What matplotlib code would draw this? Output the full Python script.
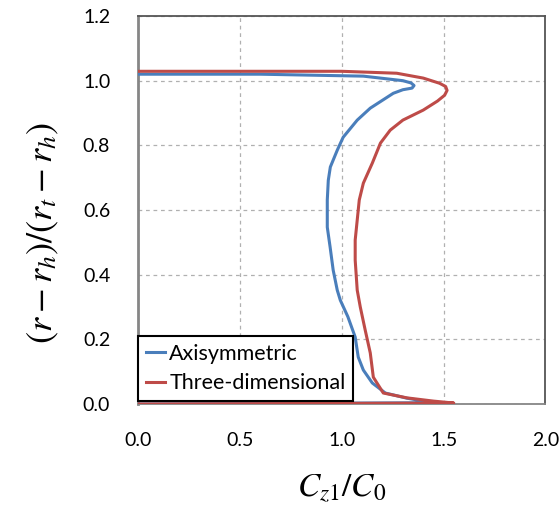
import matplotlib
matplotlib.use("Agg")
import matplotlib.pyplot as plt

plt.rcParams['mathtext.fontset'] = 'stix'

# (C_z1/C_0, normalised radius)
axi_x = [0.0, 0.6, 1.106, 1.30, 1.34, 1.355, 1.345, 1.30, 1.253, 1.14, 1.076, 1.007, 0.978,
         0.944, 0.934, 0.929, 0.929, 0.943, 0.958, 0.978, 0.993, 1.03, 1.066,
         1.081, 1.106, 1.15, 1.214, 1.32, 1.45, 0.0]
axi_y = [1.020, 1.020, 1.014, 1.000, 0.993, 0.985, 0.977, 0.972, 0.961, 0.915, 0.878, 0.825, 0.785,
         0.733, 0.692, 0.631, 0.547, 0.485, 0.414, 0.352, 0.321, 0.27, 0.207,
         0.145, 0.105, 0.065, 0.034, 0.018, 0.004, 0.0]

td_x = [0.0, 1.0, 1.27, 1.40, 1.48, 1.51, 1.517, 1.505, 1.47, 1.40, 1.30, 1.238, 1.19,
        1.15, 1.106, 1.086, 1.076, 1.066, 1.066, 1.076, 1.091, 1.115, 1.14,
        1.155, 1.204, 1.32, 1.45, 1.55, 0.0]
td_y = [1.029, 1.029, 1.023, 1.008, 0.992, 0.982, 0.970, 0.955, 0.937, 0.909, 0.878, 0.847, 0.807,
        0.745, 0.683, 0.631, 0.569, 0.507, 0.445, 0.352, 0.30, 0.229, 0.158,
        0.083, 0.034, 0.019, 0.009, 0.003, 0.0]

fig = plt.figure(figsize=(5.59, 5.08), dpi=100)
ax = fig.add_axes([0.2469, 0.2047, 0.7289, 0.7638])

ax.plot(axi_x, axi_y, color='#4a7ebb', lw=2.2, label='Axisymmetric', zorder=3)
ax.plot(td_x, td_y, color='#be4b48', lw=2.2, label='Three-dimensional', zorder=3)

ax.set_xlim(0, 2.0)
ax.set_ylim(0, 1.2)
ax.set_xticks([0.0, 0.5, 1.0, 1.5, 2.0])
ax.set_yticks([0.0, 0.2, 0.4, 0.6, 0.8, 1.0, 1.2])
ax.set_xticklabels(['0.0', '0.5', '1.0', '1.5', '2.0'], family='Lato', fontsize=14)
ax.set_yticklabels(['0.0', '0.2', '0.4', '0.6', '0.8', '1.0', '1.2'], family='Lato', fontsize=14)
ax.tick_params(axis='x', length=0, pad=20)
ax.tick_params(axis='y', length=0, pad=20)
ax.grid(True, color='#b0b0b0', ls=(0, (3, 3)), lw=0.9)

for s in ['top', 'right']:
    ax.spines[s].set_color('#555555')
    ax.spines[s].set_linewidth(1.3)
ax.spines['left'].set_color('#868686')
ax.spines['left'].set_linewidth(2.0)
ax.spines['bottom'].set_color('#868686')
ax.spines['bottom'].set_linewidth(1.3)

ax.set_xlabel(r'$C_{z1}/C_0$', fontsize=24, labelpad=16)
ax.set_ylabel(r'$\left(r-r_h\right)/\left(r_t-r_h\right)$', fontsize=26)
ax.yaxis.set_label_coords(-0.19, 0.44)

leg = ax.legend(loc='lower left', bbox_to_anchor=(0.0, 0.008),
                prop={'family': 'Lato', 'size': 15.5},
                fancybox=False, framealpha=1, edgecolor='black',
                handlelength=0.9, handletextpad=0.2, borderaxespad=0.0,
                borderpad=0.35, labelspacing=0.45)
leg.get_frame().set_linewidth(1.5)

fig.savefig('out.png', dpi=100)
